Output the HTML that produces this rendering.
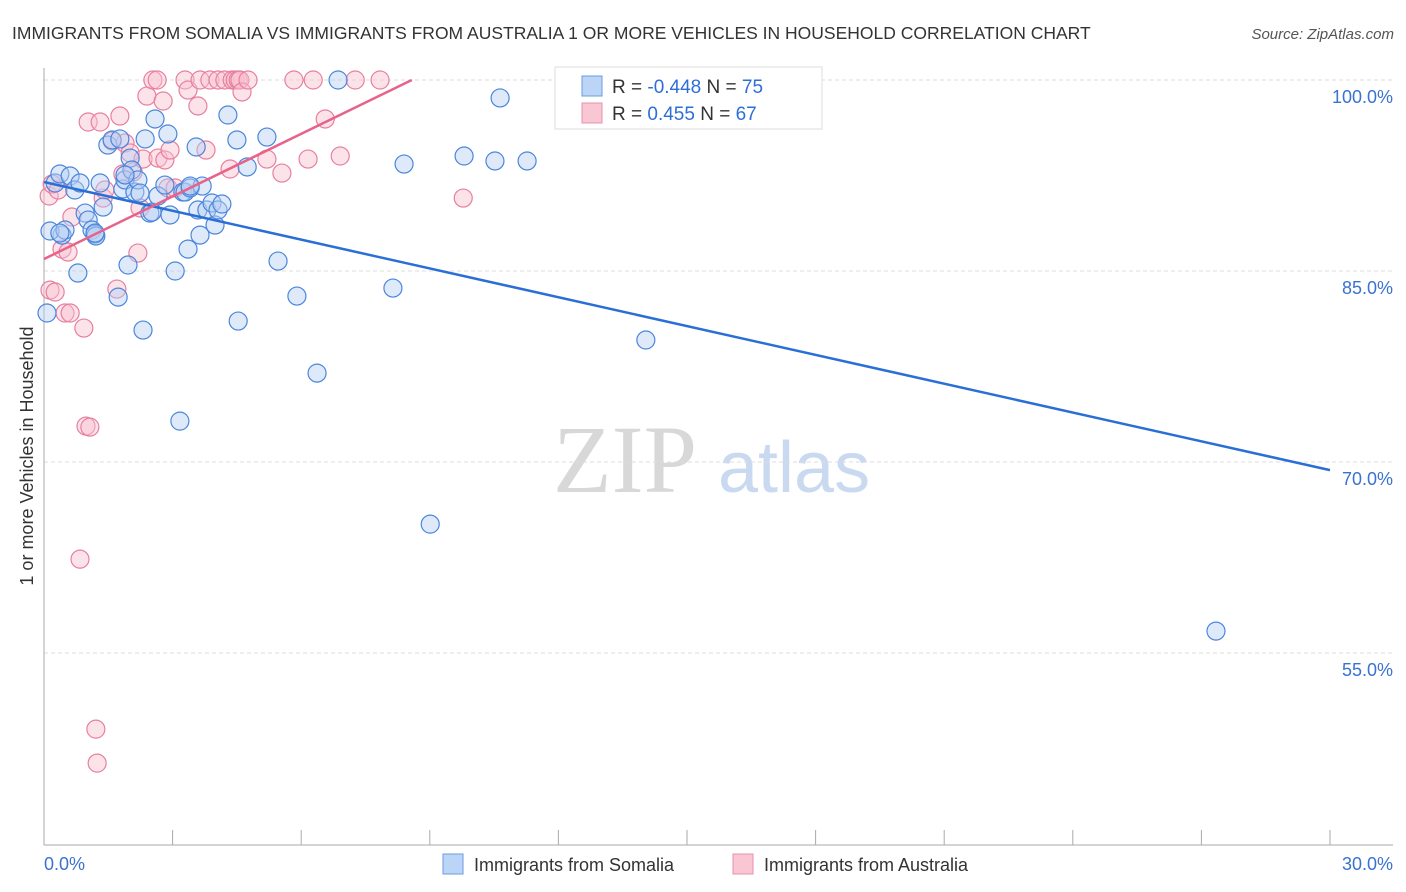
<!DOCTYPE html>
<html><head><meta charset="utf-8">
<style>
body{margin:0;background:#fff;font-family:"Liberation Sans",sans-serif;}
#wrap{position:relative;width:1406px;height:892px;overflow:hidden;}
</style></head>
<body>
<div id="wrap">
<svg id="chart" width="1406" height="892" xmlns="http://www.w3.org/2000/svg">
<text x="12" y="39" font-size="17.5" fill="#333">IMMIGRANTS FROM SOMALIA VS IMMIGRANTS FROM AUSTRALIA 1 OR MORE VEHICLES IN HOUSEHOLD CORRELATION CHART</text>
<text x="1394" y="39" font-size="15" fill="#555" font-style="italic" text-anchor="end">Source: ZipAtlas.com</text>
<text x="33" y="456" font-size="18" fill="#333" text-anchor="middle" transform="rotate(-90 33 456)">1 or more Vehicles in Household</text>
<g>
<text x="553" y="492" font-size="96" font-family="Liberation Serif, serif" fill="#d8d8d8">ZIP</text>
<text x="718" y="492" font-size="72" fill="#c9daf0">atlas</text>
</g>
<g id="grid"></g>
<g id="axes"></g>
<g id="pink"></g>
<g id="blue"></g>
<g id="lines"></g>
<g>
<rect x="555" y="67" width="267" height="62" fill="#fff" stroke="#ddd"/>
<rect x="582" y="76" width="20" height="20" fill="#bcd4f5" stroke="#6a9be0"/>
<rect x="582" y="103" width="20" height="20" fill="#f9c6d4" stroke="#e890aa"/>
<text x="612" y="93" font-size="19" fill="#333">R = <tspan fill="#2e6fd6">-0.448</tspan>   N = <tspan fill="#2e6fd6">75</tspan></text>
<text x="612" y="120" font-size="19" fill="#333">R =  <tspan fill="#2e6fd6"> 0.455</tspan>   N = <tspan fill="#2e6fd6">67</tspan></text>
</g>
<g>
<rect x="443" y="854" width="20" height="20" fill="#bcd4f5" stroke="#6a9be0"/>
<text x="474" y="871" font-size="18" fill="#333">Immigrants from Somalia</text>
<rect x="733" y="854" width="20" height="20" fill="#f9c6d4" stroke="#e890aa"/>
<text x="764" y="871" font-size="18" fill="#333">Immigrants from Australia</text>
</g>
</svg>
</div>
<script>
const blueX=[.07,.26,.37,.42,.14,.49,.61,.72,.79,.84,.96,1.03,1.12,1.19,1.21,1.31,1.38,1.49,1.59,1.73,1.77,1.84,1.89,1.96,2.01,2.05,2.12,2.19,2.24,2.31,2.36,2.47,2.52,2.59,2.66,2.82,2.89,2.94,3.06,3.17,3.24,3.29,3.36,3.41,3.55,3.59,3.64,3.69,3.80,3.92,3.99,4.06,4.15,4.29,4.50,4.53,4.74,5.20,5.46,5.90,6.37,6.86,8.14,8.40,9.01,9.80,10.52,10.64,11.27,14.04,27.34,3.41,1.89,1.19,.37];
const blueY=[81.70,91.91,92.62,87.82,88.14,88.22,92.46,91.36,84.84,91.91,89.55,89.00,88.22,87.90,87.75,91.91,90.02,94.89,95.29,82.95,95.37,91.44,92.15,85.47,93.87,92.93,91.20,92.15,91.12,80.36,95.37,89.55,89.63,96.94,90.89,91.75,95.76,89.40,85.00,73.21,91.20,91.20,86.72,91.52,94.74,89.79,87.82,91.67,89.79,90.34,88.61,89.79,90.26,97.25,95.29,81.07,93.17,95.52,85.78,83.03,76.98,100,83.66,93.40,65.12,94.03,93.64,98.59,93.64,79.58,56.72,91.67,92.54,87.98,87.98];
const pinkX=[.12,.14,.19,.26,.33,.42,.49,.61,.65,.56,.84,.93,.98,1.07,1.03,1.21,1.24,1.31,1.38,1.42,1.59,1.70,1.77,1.84,1.89,2.01,2.08,2.19,2.24,2.31,2.40,2.54,2.64,2.66,2.78,2.82,2.89,2.94,3.06,3.29,3.36,3.59,3.64,3.78,3.87,4.06,4.22,4.34,4.39,4.46,4.53,4.57,4.62,4.76,5.20,5.55,5.83,6.16,6.28,6.56,6.91,7.26,7.84,9.78,12.27,13.74,12.32];
const pinkY=[90.89,83.50,91.83,83.35,91.36,86.72,81.70,81.70,89.24,86.49,62.37,80.52,72.82,72.74,96.70,49.02,46.35,96.70,90.73,91.36,95.21,83.58,97.17,92.62,95.05,94.27,92.77,86.41,89.95,93.79,98.74,100,100,93.87,98.35,93.72,91.52,94.50,91.52,100,99.21,97.96,100,94.50,100,100,100,93.01,100,100,100,100,99.06,100,93.79,92.69,100,93.79,100,96.94,94.03,100,100,90.73,100,100,100];
const yTicks=[100,85,70,55];
const yTickLabels=["100.0%","85.0%","70.0%","55.0%"];
const xTicks=[0,3,6,9,12,15,18,21,24,27,30];
const xEndLabels=["0.0%","30.0%"];
const blueTrend=[[0,91.99],[30,69.36]];
const pinkTrend=[[0,85.94],[8.58,100]];
const NS="http://www.w3.org/2000/svg";
const sx=v=>44+v*(1330-44)/30;
const sy=v=>80+(100-v)*(191/15);
function mk(tag,attrs,parent){const e=document.createElementNS(NS,tag);for(const k in attrs)e.setAttribute(k,attrs[k]);parent.appendChild(e);return e;}
const grid=document.getElementById('grid'),axes=document.getElementById('axes');
yTicks.forEach((t,i)=>{
  const l=mk('line',{x1:44,x2:1393,y1:sy(t),y2:sy(t),stroke:'#ddd','stroke-dasharray':'4,3'},grid);
  
  
  const tx=mk('text',{x:1393,y:sy(t)+23,'font-size':18,fill:'#3a72d0','text-anchor':'end'},axes);
  tx.textContent=yTickLabels[i];
  
  
});
const ya=mk('line',{x1:44,x2:44,y1:68,y2:845,stroke:'#aaa'},axes);


const xa=mk('line',{x1:44,x2:1393,y1:845,y2:845,stroke:'#aaa'},axes);


xTicks.forEach(t=>{
  const l=mk('line',{x1:sx(t),x2:sx(t),y1:830,y2:845,stroke:'#aaa'},axes);
  
  
});
[[0,'start',44],[30,'end',1393]].forEach((d,i)=>{
  const tx=mk('text',{x:d[2],y:870,'font-size':18,fill:'#3a72d0','text-anchor':d[1]},axes);
  tx.textContent=xEndLabels[i];
  
  
});
function pts(xs,ys,g,fill,stroke,name){
  xs.forEach((x,i)=>{
    const c=mk('circle',{cx:sx(x),cy:sy(ys[i]),r:9,fill:fill,'fill-opacity':0.45,stroke:stroke,'stroke-width':1.2},g);
    
    
  });
}
pts(pinkX,pinkY,document.getElementById('pink'),'#f9c0d0','#e87f9f','australia-point');
pts(blueX,blueY,document.getElementById('blue'),'#b5cff3','#4a86dc','somalia-point');
const lines=document.getElementById('lines');
const bl=mk('line',{x1:sx(blueTrend[0][0]),y1:sy(blueTrend[0][1]),x2:sx(blueTrend[1][0]),y2:sy(blueTrend[1][1]),stroke:'#2a6fd6','stroke-width':2.5},lines);


const pl=mk('line',{x1:sx(pinkTrend[0][0]),y1:sy(pinkTrend[0][1]),x2:sx(pinkTrend[1][0]),y2:sy(pinkTrend[1][1]),stroke:'#e8628a','stroke-width':2.5},lines);


</script>
</body></html>
